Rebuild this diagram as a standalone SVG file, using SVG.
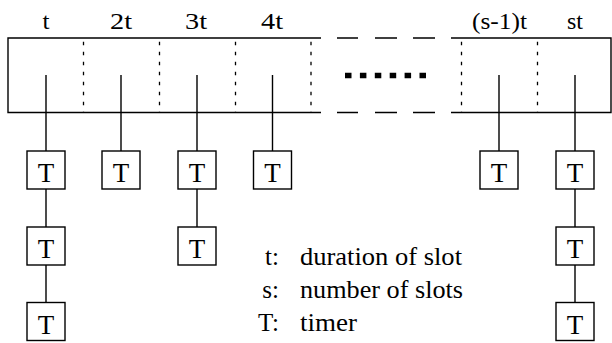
<svg xmlns="http://www.w3.org/2000/svg" width="612" height="343" viewBox="0 0 612 343">
<style>
.ln{stroke:#000;stroke-width:1.4;fill:none}
.div{stroke:#000;stroke-width:1.3;fill:none;stroke-dasharray:3.5 6.5;stroke-dashoffset:6.3}
.box{fill:#fff;stroke:#000;stroke-width:1.4}
.tx{font-family:"Liberation Serif","Times New Roman",serif;fill:#000}
.lbl{font-size:24px;text-anchor:middle}
.bt{font-size:27px;text-anchor:middle}
.lg{font-size:25px}
</style>
<rect width="612" height="343" fill="#fff"/>
<g id="slots">
  <path class="ln" d="M321,38 H8 V112.5 H321 M451,38 H611 V112.5 H451"/>
  <path class="ln" d="M337,38 H358 M375,38 H397 M413,38 H435 M337,112.5 H358 M375,112.5 H397 M413,112.5 H435"/>
  <line class="div" x1="83.5" y1="38" x2="83.5" y2="112.5"/>
  <line class="div" x1="159.5" y1="38" x2="159.5" y2="112.5"/>
  <line class="div" x1="235.5" y1="38" x2="235.5" y2="112.5"/>
  <line class="div" x1="311" y1="38" x2="311" y2="112.5"/>
  <line class="div" x1="461.5" y1="38" x2="461.5" y2="112.5"/>
  <line class="div" x1="537.5" y1="38" x2="537.5" y2="112.5"/>
  <line x1="345" y1="75.5" x2="427" y2="75.5" stroke="#000" stroke-width="5.5" stroke-dasharray="6.5 8.4"/>
  <text class="tx lbl" x="46" y="29" textLength="7" lengthAdjust="spacingAndGlyphs">t</text>
  <text class="tx lbl" x="121" y="29" textLength="22" lengthAdjust="spacingAndGlyphs">2t</text>
  <text class="tx lbl" x="196" y="29" textLength="22" lengthAdjust="spacingAndGlyphs">3t</text>
  <text class="tx lbl" x="272" y="29" textLength="22" lengthAdjust="spacingAndGlyphs">4t</text>
  <text class="tx lbl" x="499.5" y="29" textLength="55" lengthAdjust="spacingAndGlyphs">(s-1)t</text>
  <text class="tx lbl" x="575" y="29" textLength="16" lengthAdjust="spacingAndGlyphs">st</text>
</g>
<g id="connectors">
  <path class="ln" d="M46,75 V151 M46,189 V227 M46,265 V302.5 M121,75 V151 M197,75 V151 M197,189 V227 M272.5,75 V151 M499,75 V151 M575,75 V151 M575,189 V227 M575,265 V302.5"/>
</g>
<g id="timer-1a"><rect class="box" x="27" y="151" width="38" height="38"/><text class="tx bt" x="46" y="182">T</text></g>
<g id="timer-1b"><rect class="box" x="27" y="227" width="38" height="38"/><text class="tx bt" x="46" y="258">T</text></g>
<g id="timer-1c"><rect class="box" x="27" y="302.5" width="38" height="38"/><text class="tx bt" x="46" y="333.5">T</text></g>
<g id="timer-2a"><rect class="box" x="102" y="151" width="38" height="38"/><text class="tx bt" x="121" y="182">T</text></g>
<g id="timer-3a"><rect class="box" x="178" y="151" width="38" height="38"/><text class="tx bt" x="197" y="182">T</text></g>
<g id="timer-3b"><rect class="box" x="178" y="227" width="38" height="38"/><text class="tx bt" x="197" y="258">T</text></g>
<g id="timer-4a"><rect class="box" x="253.5" y="151" width="38" height="38"/><text class="tx bt" x="272.5" y="182">T</text></g>
<g id="timer-5a"><rect class="box" x="480" y="151" width="38" height="38"/><text class="tx bt" x="499" y="182">T</text></g>
<g id="timer-6a"><rect class="box" x="556" y="151" width="38" height="38"/><text class="tx bt" x="575" y="182">T</text></g>
<g id="timer-6b"><rect class="box" x="556" y="227" width="38" height="38"/><text class="tx bt" x="575" y="258">T</text></g>
<g id="timer-6c"><rect class="box" x="556" y="302.5" width="38" height="38"/><text class="tx bt" x="575" y="333.5">T</text></g>
<g id="legend">
  <text class="tx lg" x="279" y="265" text-anchor="end">t:</text>
  <text class="tx lg" x="300" y="265" textLength="162" lengthAdjust="spacingAndGlyphs">duration of slot</text>
  <text class="tx lg" x="279" y="298" text-anchor="end">s:</text>
  <text class="tx lg" x="300" y="298" textLength="163" lengthAdjust="spacingAndGlyphs">number of slots</text>
  <text class="tx lg" x="279" y="331" text-anchor="end">T:</text>
  <text class="tx lg" x="300" y="331" textLength="57" lengthAdjust="spacingAndGlyphs">timer</text>
</g>
</svg>
